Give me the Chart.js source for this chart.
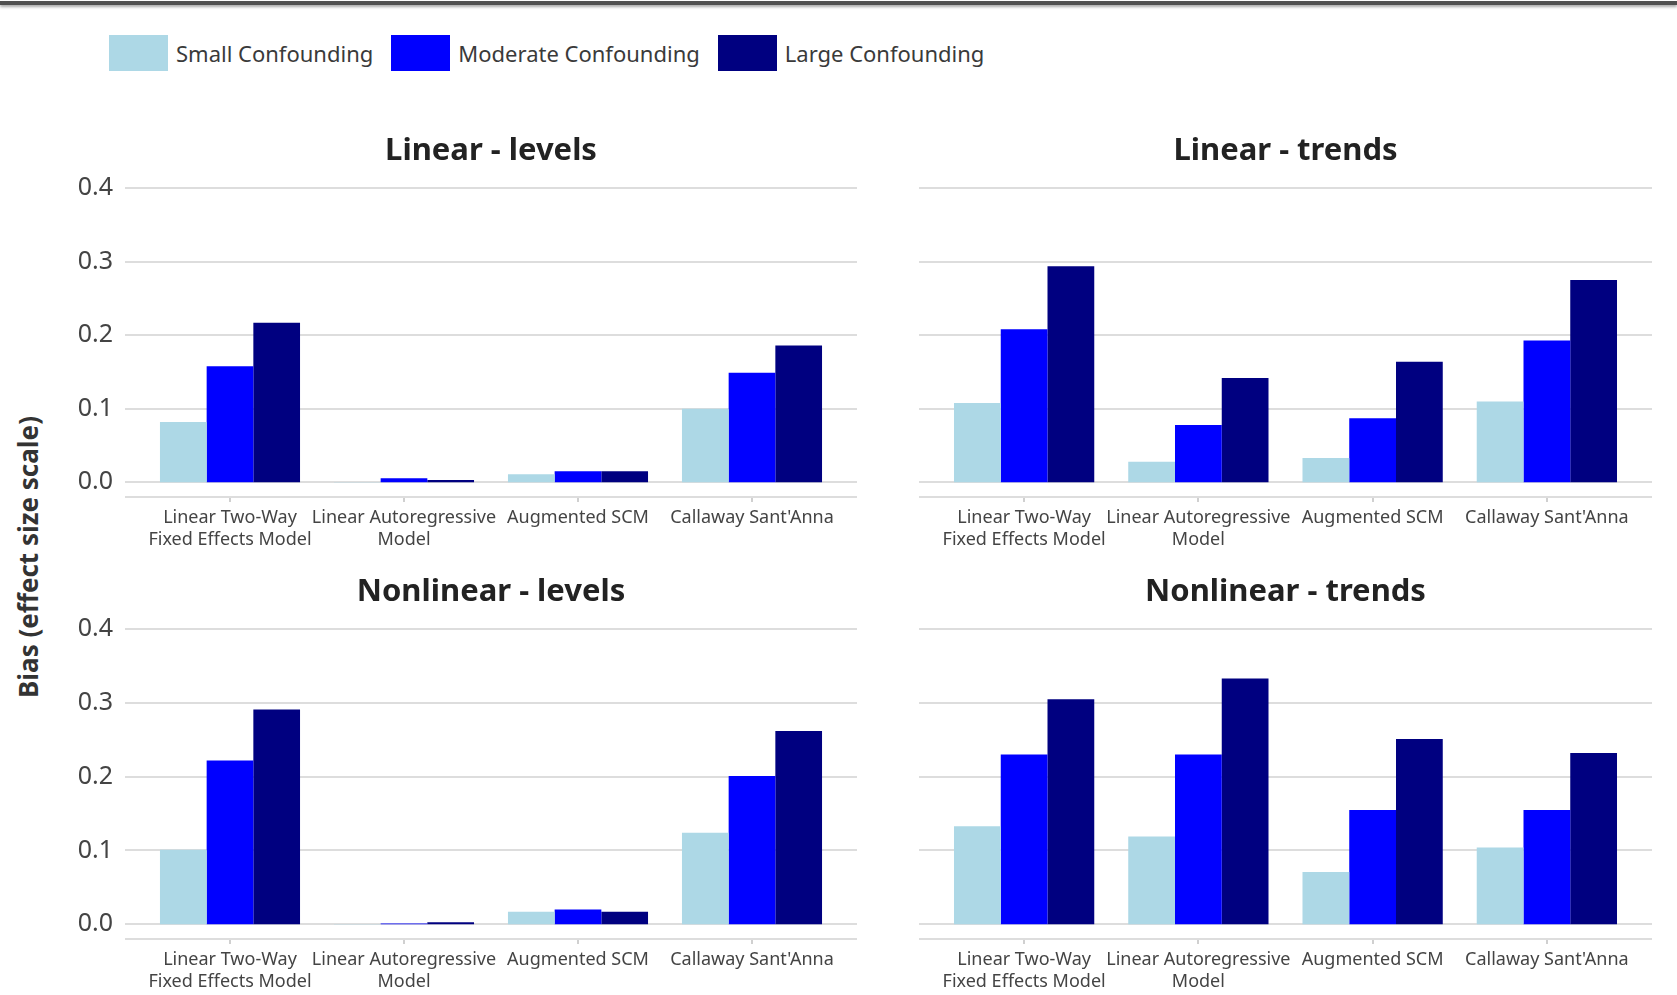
<!DOCTYPE html>
<html>
<head>
<meta charset="utf-8">
<script src="https://cdn.jsdelivr.net/npm/chart.js@4.4.1/dist/chart.umd.min.js"></script>
<style>
  html, body { margin: 0; padding: 0; background: #fff; }
  body { width: 1677px; height: 995px; position: relative; overflow: hidden; font-family: "Noto Sans", "Open Sans", sans-serif; }
  #topRule { position: absolute; left: 0; top: 1px; width: 1677px; height: 4px; background: #505050; box-shadow: 0 2px 3px rgba(0,0,0,0.35); }
  #legend { position: absolute; left: 109px; top: 35px; display: flex; align-items: center; }
  .item { display: flex; align-items: center; margin-right: 18px; }
  .swatch { width: 59px; height: 36px; margin-right: 8px; }
  .label { font-size: 22px; color: #3a3a3a; }
  #ytitle { position: absolute; left: 28px; top: 557px; transform: translate(-50%, -50%) rotate(-90deg); font-weight: bold; font-size: 26px; color: #333; white-space: nowrap; }
  canvas { position: absolute; }
</style>
</head>
<body>
<div id="topRule"></div>
<div id="legend"></div>
<div id="ytitle">Bias (effect size scale)</div>
<canvas id="c1" width="922" height="441" style="left:30px;top:110px"></canvas>
<canvas id="c2" width="777" height="441" style="left:897px;top:110px"></canvas>
<canvas id="c3" width="922" height="442" style="left:30px;top:551px"></canvas>
<canvas id="c4" width="777" height="442" style="left:897px;top:551px"></canvas>
<script>
// categories and series
const categories = [
  ['Linear Two-Way', 'Fixed Effects Model'],
  ['Linear Autoregressive', 'Model'],
  'Augmented SCM',
  "Callaway Sant'Anna"
];
const seriesNames = ['Small Confounding', 'Moderate Confounding', 'Large Confounding'];
const seriesColors = ['#add8e6', '#0000ff', '#000080'];
const yTicks = [0, 0.1, 0.2, 0.3, 0.4];

// Linear - levels
const linearLevelsSmall = [0.082, 0.0005, 0.011, 0.100];
const linearLevelsModerate = [0.158, 0.0055, 0.015, 0.149];
const linearLevelsLarge = [0.217, 0.003, 0.015, 0.186];

// Linear - trends
const linearTrendsSmall = [0.108, 0.028, 0.033, 0.110];
const linearTrendsModerate = [0.208, 0.078, 0.087, 0.193];
const linearTrendsLarge = [0.294, 0.142, 0.164, 0.275];

// Nonlinear - levels
const nonlinearLevelsSmall = [0.101, 0.0005, 0.017, 0.124];
const nonlinearLevelsModerate = [0.222, 0.001, 0.020, 0.201];
const nonlinearLevelsLarge = [0.291, 0.0027, 0.017, 0.262];

// Nonlinear - trends
const nonlinearTrendsSmall = [0.133, 0.119, 0.071, 0.104];
const nonlinearTrendsModerate = [0.230, 0.230, 0.155, 0.155];
const nonlinearTrendsLarge = [0.305, 0.333, 0.251, 0.232];

// legend (html)
const legendEl = document.getElementById('legend');
seriesNames.forEach((name, i) => {
  const item = document.createElement('div');
  item.className = 'item';
  item.innerHTML = '<div class="swatch" style="background:' + seriesColors[i] + '"></div><span class="label">' + name + '</span>';
  legendEl.appendChild(item);
});

// gridlines that run a bit past the bar area, like the original
const gridExtend = {
  id: 'gridExtend',
  beforeDatasetsDraw(chart) {
    const { ctx, chartArea, scales } = chart;
    const x0 = chartArea.left - 18, x1 = chartArea.right + 18;
    ctx.save();
    ctx.strokeStyle = '#dddddd';
    ctx.lineWidth = 2;
    scales.y.ticks.forEach(t => {
      const y = Math.round(scales.y.getPixelForValue(t.value));
      ctx.beginPath(); ctx.moveTo(x0, y); ctx.lineTo(x1, y); ctx.stroke();
    });
    const yb = Math.round(chartArea.bottom);
    ctx.beginPath(); ctx.moveTo(x0, yb); ctx.lineTo(x1, yb); ctx.stroke();
    ctx.restore();
  }
};

function makePanel(id, title, values, showY) {
  const yWidth = showY ? 113 : 40;
  new Chart(document.getElementById(id), {
    type: 'bar',
    data: {
      labels: categories,
      datasets: values.map((v, i) => ({
        label: seriesNames[i],
        data: v,
        backgroundColor: seriesColors[i],
        borderWidth: 0,
        categoryPercentage: 0.805,
        barPercentage: 1.0
      }))
    },
    options: {
      responsive: false,
      animation: false,
      layout: { padding: 0 },
      plugins: {
        legend: { display: false },
        tooltip: { enabled: false },
        title: {
          display: true,
          text: title,
          color: '#222',
          font: { family: '"Noto Sans", "Open Sans", sans-serif', size: 31, weight: 'bold', lineHeight: 1.2 },
          padding: { top: 23, bottom: 18 }
        }
      },
      scales: {
        x: {
          grid: { display: true, drawOnChartArea: false, drawTicks: true, tickLength: 5, color: '#d0d0d0', lineWidth: 2, offset: false },
          border: { display: false },
          ticks: {
            color: '#444',
            font: { family: '"Noto Sans", "Open Sans", sans-serif', size: 18, lineHeight: 1.2 },
            padding: 5,
            maxRotation: 0,
            minRotation: 0,
            autoSkip: false
          },
          afterFit(scale) { scale.height = 54; }
        },
        y: {
          min: -0.02,
          max: 0.4,
          grid: { display: false },
          border: { display: false },
          afterBuildTicks(scale) { scale.ticks = yTicks.map(v => ({ value: v })); },
          ticks: {
            display: showY,
            color: '#444',
            padding: 22,
            font: { family: '"Noto Sans", "Open Sans", sans-serif', size: 25 },
            callback: v => Number(v).toFixed(1)
          },
          afterFit(scale) { scale.width = yWidth; }
        },
        // empty right-hand spacer so the title centres over the plot
        yRight: {
          position: 'right',
          display: true,
          grid: { display: false },
          border: { display: false },
          ticks: { display: false },
          afterFit(scale) { scale.width = yWidth; }
        }
      }
    },
    plugins: [gridExtend]
  });
}

makePanel('c1', 'Linear - levels', [linearLevelsSmall, linearLevelsModerate, linearLevelsLarge], true);
makePanel('c2', 'Linear - trends', [linearTrendsSmall, linearTrendsModerate, linearTrendsLarge], false);
makePanel('c3', 'Nonlinear - levels', [nonlinearLevelsSmall, nonlinearLevelsModerate, nonlinearLevelsLarge], true);
makePanel('c4', 'Nonlinear - trends', [nonlinearTrendsSmall, nonlinearTrendsModerate, nonlinearTrendsLarge], false);
</script>
</body>
</html>
